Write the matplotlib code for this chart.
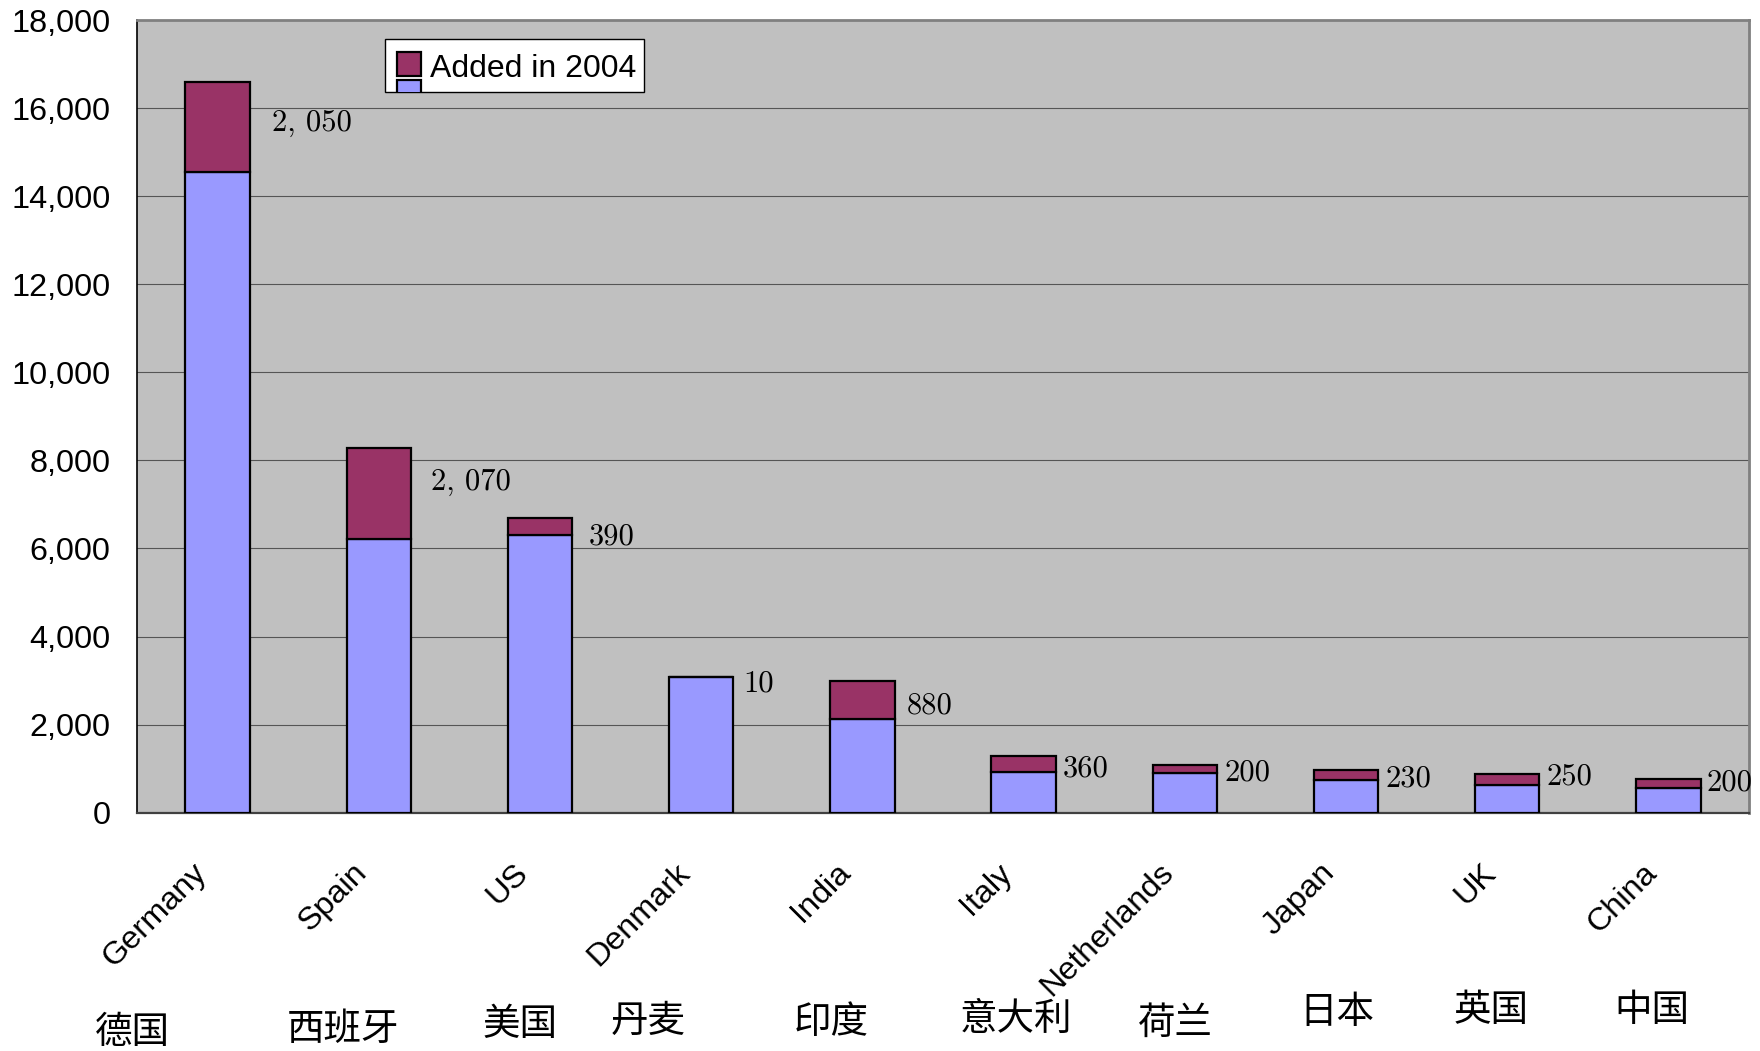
import matplotlib
matplotlib.use('Agg')
import matplotlib.pyplot as plt
import matplotlib.transforms as mtransforms
from matplotlib.patches import Rectangle
from matplotlib.ticker import FuncFormatter

countries = ['Germany', 'Spain', 'US', 'Denmark', 'India', 'Italy',
             'Netherlands', 'Japan', 'UK', 'China']
countries_cn = ['德国', '西班牙', '美国', '丹麦', '印度', '意大利',
                '荷兰', '日本', '英国', '中国']
# installed wind capacity before 2004 (MW)
base_2003 = [14550, 6220, 6300, 3080, 2120, 920, 890, 740, 620, 560]
# capacity added in 2004 (MW)
added_2004 = [2050, 2070, 390, 10, 880, 360, 200, 230, 250, 200]

# nudges (points) for the value labels, which were placed by hand
label_dx = [16, 14.5, 12, 7, 9, 5, 5.7, 5, 5, 4]
label_dy = [2.4, 8, -7.3, -4.8, -4, -3.2, -2.4, -2.4, 2.4, 0.8]

# chinese names sit in loose text boxes under the axis
cn_dx = [-0.53, -0.22, -0.125, -0.33, -0.195, -0.05, -0.056, -0.056, -0.10, -0.10]
cn_y = [1032, 1029, 1024, 1021, 1023, 1019, 1023, 1013, 1011, 1011]

W, H = 1760, 1051
sans = 'Liberation Sans'

fig = plt.figure(figsize=(W / 100, H / 100), dpi=100)
ax = fig.add_axes([137 / W, 1 - 812.6 / H, (1749 - 137) / W, (812.6 - 20.2) / H])
ax.set_facecolor('#C0C0C0')

x = list(range(len(countries)))
ax.bar(x, base_2003, width=0.4, color='#9999FF', edgecolor='black',
       linewidth=1.6, zorder=3)
ax.bar(x, added_2004, bottom=base_2003, width=0.4, color='#993366',
       edgecolor='black', linewidth=1.6, zorder=3)

ax.set_xlim(-0.5, 9.5)
ax.set_ylim(0, 18000)
ax.set_yticks(range(0, 18001, 2000))
ax.yaxis.set_major_formatter(FuncFormatter(lambda v, p: f'{int(v):,}'))
ax.grid(axis='y', color='#555555', linewidth=0.8, zorder=0)
ax.tick_params(axis='y', length=0, pad=19, labelsize=23.3)
ax.tick_params(axis='x', length=0, pad=40, labelsize=23.3)
for lbl in ax.get_yticklabels():
    lbl.set_fontfamily(sans)

ax.set_xticks(x)
ax.set_xticklabels(countries, rotation=45, ha='right', va='center',
                   rotation_mode='anchor', fontfamily=sans)
shift = mtransforms.ScaledTranslation(-0.16, 0, fig.dpi_scale_trans)
for lbl in ax.get_xticklabels():
    lbl.set_transform(lbl.get_transform() + shift)

for side in ['top', 'right']:
    ax.spines[side].set_color('#808080')
    ax.spines[side].set_linewidth(2)
ax.spines['left'].set_color('black')
ax.spines['left'].set_linewidth(1.2)
ax.spines['bottom'].set_color('#404040')
ax.spines['bottom'].set_linewidth(1.6)

# value of the 2004 addition, next to each bar
for i in x:
    b, a = base_2003[i], added_2004[i]
    ax.annotate(f'{a:,}'.replace(',', ', '), xy=(i + 0.2, b + a / 2),
                xytext=(label_dx[i], label_dy[i]), textcoords='offset points',
                ha='left', va='center', fontfamily='cmr10', fontsize=22,
                annotation_clip=False, zorder=4)

blend = mtransforms.blended_transform_factory(ax.transData, fig.transFigure)
for i in x:
    fig.text(i + cn_dx[i], 1 - cn_y[i] / H, countries_cn[i], transform=blend,
             ha='center', va='center', fontsize=27,
             fontfamily=['Noto Sans CJK SC', 'DejaVu Sans'])


def fx(px):
    return px / W


def fy(py):
    return 1 - py / H


# legend box, its second entry cut off by the frame
box = Rectangle((fx(385), fy(92)), fx(644) - fx(385), fy(39) - fy(92),
                transform=fig.transFigure, facecolor='white',
                edgecolor='black', linewidth=1, zorder=5)
fig.add_artist(box)
sq1 = Rectangle((fx(397), fy(76)), fx(421) - fx(397), fy(52) - fy(76),
                transform=fig.transFigure, facecolor='#993366',
                edgecolor='black', linewidth=1.6, zorder=6)
sq2 = Rectangle((fx(397), fy(104)), fx(421) - fx(397), fy(80) - fy(104),
                transform=fig.transFigure, facecolor='#9999FF',
                edgecolor='black', linewidth=1.6, zorder=6)
for sq in (sq1, sq2):
    sq.set_clip_path(box)
    fig.add_artist(sq)
fig.text(fx(430), fy(69), 'Added in 2004', ha='left', va='center',
         fontsize=23, fontfamily=sans, zorder=7)

fig.savefig('out.png', dpi=100, facecolor='white')
